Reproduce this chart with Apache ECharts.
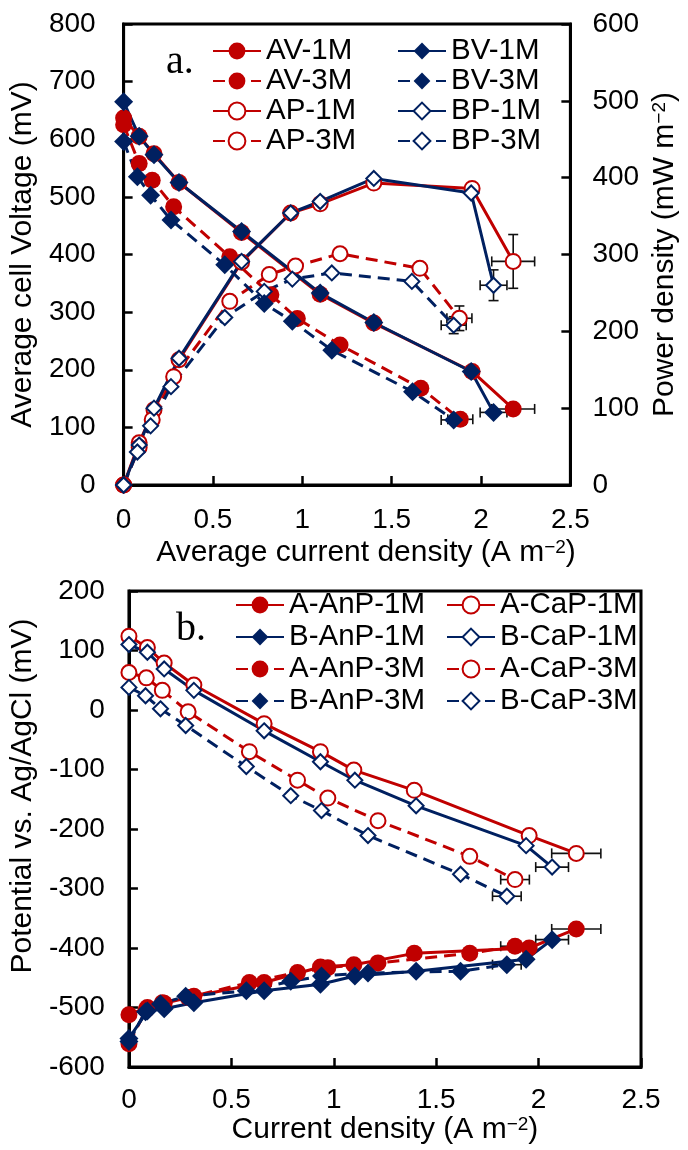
<!DOCTYPE html>
<html><head><meta charset="utf-8">
<script src="https://cdn.jsdelivr.net/npm/echarts@6/dist/echarts.min.js"></script>
<style>html,body{margin:0;padding:0;background:#fff}#c{width:688px;height:1150px}</style>
</head><body><div id="c"></div>
<script>
// ---------- Panel a: cell voltage (mV) and power density (mW m-2) vs current density ----------
const xAV1M = [0, 0.087, 0.17, 0.31, 0.66, 1.10, 1.40, 1.95, 2.18];
const vAV1M = [637, 605, 575, 525, 438, 331, 281, 197, 132];
const xAV3M = [0, 0.087, 0.16, 0.28, 0.594, 0.824, 0.972, 1.211, 1.663, 1.884];
const vAV3M = [625, 558, 529, 483, 396, 330, 289, 243, 168, 114];
const xBV1M = [0, 0.087, 0.17, 0.31, 0.66, 1.10, 1.40, 1.945, 2.07];
const vBV1M = [665, 605, 573, 525, 440, 333, 282, 197, 126];
const xBV3M = [0, 0.077, 0.151, 0.265, 0.566, 0.787, 0.944, 1.165, 1.617, 1.847];
const vBV3M = [596, 535, 503, 460, 382, 315, 284, 234, 162, 113];

const xAP1M = [0, 0.087, 0.17, 0.31, 0.66, 0.935, 1.10, 1.40, 1.95, 2.18];
const pAP1M = [0, 55, 98, 163, 290, 354, 366, 393, 386, 291];
const xBP1M = [0, 0.087, 0.17, 0.31, 0.66, 0.935, 1.10, 1.40, 1.945, 2.07];
const pBP1M = [0, 52, 100, 165, 291, 354, 369, 399, 380, 260];
const xAP3M = [0, 0.087, 0.16, 0.28, 0.594, 0.815, 0.962, 1.211, 1.658, 1.879];
const pAP3M = [0, 49, 85, 141, 239, 274, 285, 301, 282, 217];
const xBP3M = [0, 0.077, 0.151, 0.265, 0.566, 0.787, 0.944, 1.165, 1.613, 1.847];
const pBP3M = [0, 43, 77, 128, 218, 252, 268, 276, 265, 208];

// error bars on the last point of each series: [series, xErr, yErr]
const errAV = [['AV-1M', 0.12, 0], ['BV-1M', 0.075, 0], ['AV-3M', 0.07, 0], ['BV-3M', 0.07, 0]];
const errAP = [['AP-1M', 0.12, 35], ['BP-1M', 0.075, 20], ['AP-3M', 0.07, 16], ['BP-3M', 0.07, 11]];

// ---------- Panel b: electrode potentials (mV vs Ag/AgCl) ----------
const xA1M = [0, 0.090, 0.172, 0.317, 0.660, 0.935, 1.098, 1.393, 1.954, 2.184];
const xB1M = [0, 0.090, 0.172, 0.317, 0.660, 0.935, 1.103, 1.402, 1.939, 2.066];
const xA3M = [0, 0.085, 0.163, 0.289, 0.588, 0.823, 0.971, 1.216, 1.664, 1.885];
const xB3M = [0, 0.081, 0.154, 0.277, 0.573, 0.790, 0.940, 1.167, 1.619, 1.845];
const eACaP1M = [124, 105, 79, 42, -23, -70, -101, -135, -211, -241];
const eBCaP1M = [110, 97, 69, 33, -35, -87, -118, -161, -228, -264];
const eACaP3M = [63, 54, 33, -3, -70, -118, -148, -186, -246, -285];
const eBCaP3M = [38, 24, 2, -26, -95, -144, -169, -211, -276, -313];
const eAAnP1M = [-512, -500, -493, -481, -458, -432, -428, -409, -400, -368];
const eBAnP1M = [-552, -506, -502, -492, -472, -461, -447, -439, -419, -386];
const eAAnP3M = [-561, -503, -492, -483, -458, -441, -433, -425, -409, -397];
const eBAnP3M = [-557, -507, -494, -481, -472, -456, -447, -442, -439, -428];
const errB = [['A-CaP-1M', 0.12], ['B-CaP-1M', 0.08], ['A-CaP-3M', 0.07], ['B-CaP-3M', 0.07],
              ['A-AnP-1M', 0.12], ['B-AnP-1M', 0.08], ['A-AnP-3M', 0.07], ['B-AnP-3M', 0.07]];

// axis ticks
const xTicks = [0, 0.5, 1, 1.5, 2, 2.5];
const vTicks = [0, 800, 100];
const pTicks = [0, 600, 100];
const eTicks = [-600, 200, 100];

const RED = '#C00000', NAVY = '#002060';
const FONT = '"Liberation Sans", Arial, sans-serif';

const seriesList = [];
const lastPts = {};
function addLine(name, xs, ys, color, dashed, symbol, xi, yi) {
  const empty = symbol.indexOf('empty') === 0;
  const data = xs.map((x, i) => [x, ys[i]]);
  lastPts[name] = data[data.length - 1];
  seriesList.push({
    type: 'line', name, xAxisIndex: xi, yAxisIndex: yi, data,
    symbol, symbolSize: empty ? 15 : (symbol === 'diamond' ? 19 : 17),
    showAllSymbol: true, clip: false, z: 3,
    itemStyle: { color, borderColor: color, borderWidth: empty ? 2.6 : 0 },
    lineStyle: { color, width: 3, type: dashed ? [12, 7] : 'solid' },
    emphasis: { disabled: true }
  });
}
// panel a (red first, blue drawn on top)
addLine('AP-1M', xAP1M, pAP1M, RED, false, 'emptyCircle', 0, 1);
addLine('AP-3M', xAP3M, pAP3M, RED, true, 'emptyCircle', 0, 1);
addLine('AV-1M', xAV1M, vAV1M, RED, false, 'circle', 0, 0);
addLine('AV-3M', xAV3M, vAV3M, RED, true, 'circle', 0, 0);
addLine('BP-1M', xBP1M, pBP1M, NAVY, false, 'emptyDiamond', 0, 1);
addLine('BP-3M', xBP3M, pBP3M, NAVY, true, 'emptyDiamond', 0, 1);
addLine('BV-1M', xBV1M, vBV1M, NAVY, false, 'diamond', 0, 0);
addLine('BV-3M', xBV3M, vBV3M, NAVY, true, 'diamond', 0, 0);
// panel b
addLine('A-CaP-1M', xA1M, eACaP1M, RED, false, 'emptyCircle', 1, 2);
addLine('A-CaP-3M', xA3M, eACaP3M, RED, true, 'emptyCircle', 1, 2);
addLine('A-AnP-1M', xA1M, eAAnP1M, RED, false, 'circle', 1, 2);
addLine('A-AnP-3M', xA3M, eAAnP3M, RED, true, 'circle', 1, 2);
addLine('B-CaP-1M', xB1M, eBCaP1M, NAVY, false, 'emptyDiamond', 1, 2);
addLine('B-CaP-3M', xB3M, eBCaP3M, NAVY, true, 'emptyDiamond', 1, 2);
addLine('B-AnP-1M', xB1M, eBAnP1M, NAVY, false, 'diamond', 1, 2);
addLine('B-AnP-3M', xB3M, eBAnP3M, NAVY, true, 'diamond', 1, 2);

function renderErr(params, api) {
  const x = api.value(0), y = api.value(1), ex = api.value(2), ey = api.value(3);
  const c = api.coord([x, y]);
  const st = { stroke: '#111', lineWidth: 1.6 };
  const ch = [], cap = 5;
  if (ex > 0) {
    const l = api.coord([x - ex, y])[0], r = api.coord([x + ex, y])[0];
    ch.push({ type: 'line', shape: { x1: l, y1: c[1], x2: r, y2: c[1] }, style: st });
    ch.push({ type: 'line', shape: { x1: l, y1: c[1] - cap, x2: l, y2: c[1] + cap }, style: st });
    ch.push({ type: 'line', shape: { x1: r, y1: c[1] - cap, x2: r, y2: c[1] + cap }, style: st });
  }
  if (ey > 0) {
    const t = api.coord([x, y + ey])[1], b = api.coord([x, y - ey])[1];
    ch.push({ type: 'line', shape: { x1: c[0], y1: t, x2: c[0], y2: b }, style: st });
    ch.push({ type: 'line', shape: { x1: c[0] - cap, y1: t, x2: c[0] + cap, y2: t }, style: st });
    ch.push({ type: 'line', shape: { x1: c[0] - cap, y1: b, x2: c[0] + cap, y2: b }, style: st });
  }
  return { type: 'group', children: ch };
}
function errSeries(list, xi, yi) {
  return {
    type: 'custom', xAxisIndex: xi, yAxisIndex: yi, z: 1, silent: true,
    renderItem: renderErr, encode: { x: 0, y: 1 },
    data: list.map(e => [lastPts[e[0]][0], lastPts[e[0]][1], e[1], e[2] || 0])
  };
}
seriesList.push(errSeries(errAV, 0, 0));
seriesList.push(errSeries(errAP, 0, 1));
seriesList.push(errSeries(errB, 1, 2));

const supRich = { sup: { fontSize: 19, verticalAlign: 'top', fontFamily: FONT, color: '#000', lineHeight: 30 } };
function nameStyle(extra) {
  return Object.assign({ fontSize: 30, fontFamily: FONT, color: '#000', lineHeight: 30, rich: supRich }, extra || {});
}
function axisBase(labelMargin) {
  return {
    axisLine: { show: true, onZero: false, lineStyle: { color: '#000', width: 3 } },
    axisTick: { show: true, inside: true, length: 9, lineStyle: { color: '#000', width: 2.5 } },
    axisLabel: { color: '#000', fontSize: 28, fontFamily: FONT, margin: labelMargin },
    splitLine: { show: false }
  };
}
function legend(names, left, top, lineH) {
  return {
    data: names, orient: 'vertical', left, top, padding: 0, itemGap: 0,
    itemWidth: 48, itemHeight: 21, selectedMode: false,
    textStyle: { fontSize: 29.5, fontFamily: FONT, color: '#000', lineHeight: lineH }
  };
}

const option = {
  animation: false,
  backgroundColor: '#fff',
  grid: [
    { left: 121, top: 24, width: 452, height: 461, show: true, borderColor: '#000', borderWidth: 3 },
    { left: 126, top: 591, width: 515, height: 476, show: true, borderColor: '#000', borderWidth: 3 }
  ],
  xAxis: [
    Object.assign(axisBase(21), {
      type: 'value', gridIndex: 0, min: xTicks[0], max: xTicks[xTicks.length - 1], interval: xTicks[1] - xTicks[0],
      name: 'Average current density (A m{sup|−2})', nameLocation: 'middle', nameGap: 53,
      nameTextStyle: nameStyle({ padding: [0, 0, 0, 38] })
    }),
    Object.assign(axisBase(19), {
      type: 'value', gridIndex: 1, min: xTicks[0], max: xTicks[xTicks.length - 1], interval: xTicks[1] - xTicks[0],
      name: 'Current density (A m{sup|−2})', nameLocation: 'middle', nameGap: 45,
      nameTextStyle: nameStyle()
    })
  ],
  yAxis: [
    Object.assign(axisBase(28), {
      type: 'value', gridIndex: 0, position: 'left', min: vTicks[0], max: vTicks[1], interval: vTicks[2],
      name: 'Average cell Voltage (mV)', nameLocation: 'middle', nameGap: 79, nameTextStyle: nameStyle()
    }),
    Object.assign(axisBase(22), {
      type: 'value', gridIndex: 0, position: 'right', min: pTicks[0], max: pTicks[1], interval: pTicks[2],
      name: 'Power density (mW m{sup|−2})', nameLocation: 'middle', nameGap: 77, nameTextStyle: nameStyle()
    }),
    Object.assign(axisBase(24), {
      type: 'value', gridIndex: 1, position: 'left', min: eTicks[0], max: eTicks[1], interval: eTicks[2],
      name: 'Potential vs. Ag/AgCl (mV)', nameLocation: 'middle', nameGap: 84,
      nameTextStyle: nameStyle({ padding: [0, 0, 0, 66] })
    })
  ],
  legend: [
    legend(['AV-1M', 'AV-3M', 'AP-1M', 'AP-3M'], 212, 36, 28.3),
    legend(['BV-1M', 'BV-3M', 'BP-1M', 'BP-3M'], 397, 36, 28.3),
    legend(['A-AnP-1M', 'B-AnP-1M', 'A-AnP-3M', 'B-AnP-3M'], 235, 589, 32),
    legend(['A-CaP-1M', 'B-CaP-1M', 'A-CaP-3M', 'B-CaP-3M'], 446, 589, 32)
  ],
  graphic: [
    { type: 'text', left: 166, top: 42, style: { text: 'a.', font: '40px "Liberation Serif", "Times New Roman", serif', fill: '#000' } },
    { type: 'text', left: 176, top: 609, style: { text: 'b.', font: '40px "Liberation Serif", "Times New Roman", serif', fill: '#000' } }
  ],
  series: seriesList
};
const chart = echarts.init(document.getElementById('c'), null, { renderer: 'canvas', width: 688, height: 1150 });
chart.setOption(option);
</script></body></html>
